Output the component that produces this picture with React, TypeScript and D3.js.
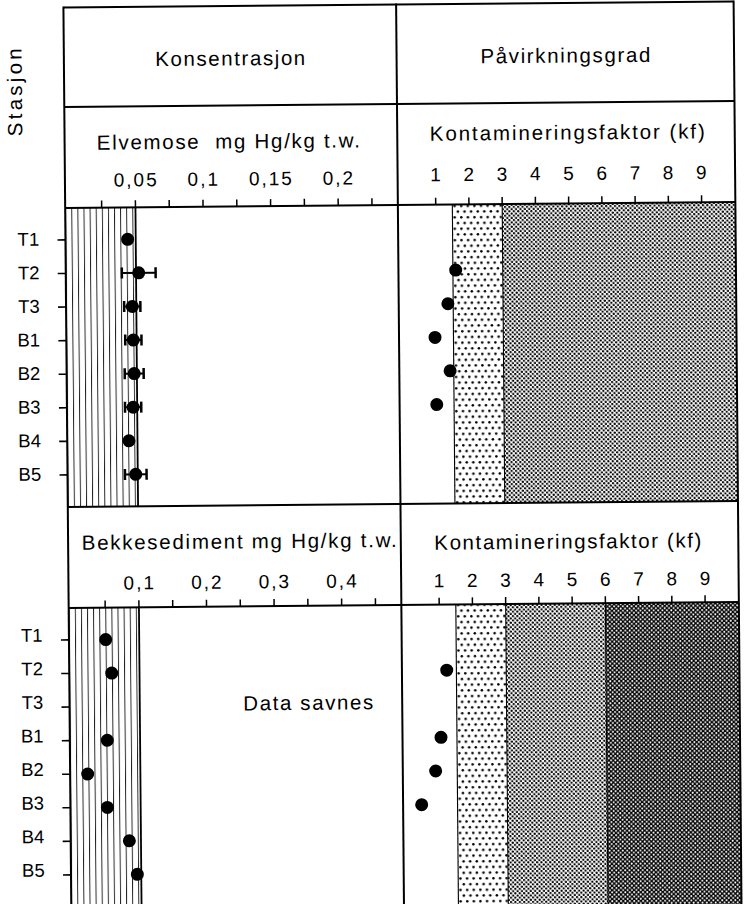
import React from 'react';
import * as d3 from 'd3';

// ---------- data ----------
const stations = ['T1', 'T2', 'T3', 'B1', 'B2', 'B3', 'B4', 'B5'];

// Elvemose (moss), mg Hg/kg t.w.
const mossValue = [0.044, 0.052, 0.047, 0.0476, 0.048, 0.047, 0.0437, 0.0485];
const mossError = [0, 0.0125, 0.006, 0.006, 0.007, 0.006, 0, 0.008];
// Kontamineringsfaktor for moss
const mossKf: (number | null)[] = [null, 1.585, 1.34, 0.945, 1.39, 0.98, null, null];

// Bekkesediment, mg Hg/kg t.w.
const sedValue: (number | null)[] = [0.0504, 0.0589, null, 0.0515, 0.022, 0.0507, 0.0828, 0.0942];
// Kontamineringsfaktor for sediment
const sedKf: (number | null)[] = [null, 1.21, null, 1.02, 0.85, 0.42, null, null];

// background levels (hatched zones)
const mossBackground = 0.05;
const sedBackground = 0.1;

// contamination classes (kf bounds)
const kfBoundsTop = [1.5, 3, 10];
const kfPatternsTop = ['lightDots', 'medDots'];
const kfBoundsBottom = [1.5, 3, 6, 10];
const kfPatternsBottom = ['lightDots', 'medDots', 'darkDots'];

// axes
const mossTicks = [0.025, 0.05, 0.075, 0.1, 0.125, 0.15, 0.175, 0.2, 0.225];
const mossLabelValues = [0.05, 0.1, 0.15, 0.2];
const mossLabelTexts = ['0,05', '0,1', '0,15', '0,2'];
const sedTicks = [0.05, 0.1, 0.15, 0.2, 0.25, 0.3, 0.35, 0.4, 0.45];
const sedLabelValues = [0.1, 0.2, 0.3, 0.4];
const sedLabelTexts = ['0,1', '0,2', '0,3', '0,4'];
const kfTicks = [1, 2, 3, 4, 5, 6, 7, 8, 9];

const FONT = "'Liberation Sans', Arial, Helvetica, sans-serif";

export default function App() {
  // layout (unrotated frame)
  const L = 67.3, M = 400, R = 737.5, TOP = 4.5, H1 = 104, A1 = 205, H2 = 504, A2 = 605, BOT = 930;

  const yTop = d3.scalePoint<string>().domain(stations).range([A1, H2]).padding(0.953);
  const yBot = d3.scalePoint<string>().domain(stations).range([A2, A2 + (H2 - A1)]).padding(0.953);
  const xMoss = d3.scaleLinear().domain([0, 0.25]).range([70, 407.9]);
  const xSed = d3.scaleLinear().domain([0, 0.5]).range([70, 407.9]);
  const xKf = d3.scaleLinear().domain([0, 10]).range([404.6, 737]);

  const fsHead = 20.5;
  const fsTick = 19;
  const fsRow = 18.5;
  const ls = 2;
  const tickLen = 7;
  const r = 6.5;

  const zones = (bounds: number[], pats: string[], y0: number, y1: number) =>
    pats.map((p, i) => {
      const x0 = xKf(bounds[i]);
      const x1 = Math.min(xKf(bounds[i + 1]), R);
      return (
        <g key={p + i}>
          <rect x={x0} y={y0} width={x1 - x0} height={y1 - y0} fill={`url(#${p})`} />
          <line x1={x0} x2={x0} y1={y0} y2={y1} stroke="#000" strokeWidth={1.1} />
        </g>
      );
    });

  const rowLabels = (y: d3.ScalePoint<string>, dy: number) =>
    stations.map((s) => (
      <g key={s}>
        <line x1={L - 8} x2={L} y1={y(s)!} y2={y(s)!} stroke="#000" strokeWidth={1.6} />
        <text x={41} y={y(s)! + dy} textAnchor="end" fontSize={fsRow} fontFamily={FONT}>{s}</text>
      </g>
    ));

  const xTicks = (ticks: number[], x: (v: number) => number, yA: number) =>
    ticks.map((t) => (
      <line key={t} x1={x(t)} x2={x(t)} y1={yA} y2={yA - tickLen} stroke="#000" strokeWidth={1.5} />
    ));

  return (
    <svg width={748} height={904} style={{ position: 'absolute', left: 0, top: 0, background: '#fff' }}>
      <defs>
        <pattern id="vhatch" patternUnits="userSpaceOnUse" x={L} y={0} width={6.1} height={10}>
          <line x1={0.5} x2={0.5} y1={0} y2={10} stroke="#111" strokeWidth={0.9} />
        </pattern>
        <pattern id="lightDots" patternUnits="userSpaceOnUse" width={6.6} height={11.4}>
          <circle cx={1.3} cy={1.3} r={1.25} fill="#000" />
          <circle cx={4.6} cy={7} r={1.25} fill="#000" />
        </pattern>
        <pattern id="medDots" patternUnits="userSpaceOnUse" width={4.4} height={4.4}>
          <circle cx={1.1} cy={1.1} r={1.15} fill="#000" />
          <circle cx={3.3} cy={3.3} r={1.15} fill="#000" />
        </pattern>
        <pattern id="darkDots" patternUnits="userSpaceOnUse" width={4.4} height={4.4}>
          <rect width={4.4} height={4.4} fill="#000" />
          <circle cx={1.1} cy={1.1} r={1.0} fill="#fff" />
          <circle cx={3.3} cy={3.3} r={1.0} fill="#fff" />
        </pattern>
      </defs>
      <rect width={748} height={904} fill="#fff" />
      <g transform="rotate(-0.5 400 450)">
        {/* background hatch zones */}
        <rect x={L} y={A1} width={xMoss(mossBackground) - L} height={H2 - A1} fill="url(#vhatch)" />
        <line x1={xMoss(mossBackground)} x2={xMoss(mossBackground)} y1={A1} y2={H2} stroke="#000" strokeWidth={1.8} />
        <rect x={L} y={A2} width={xSed(sedBackground) - L} height={BOT - A2} fill="url(#vhatch)" />
        <line x1={xSed(sedBackground)} x2={xSed(sedBackground)} y1={A2} y2={BOT} stroke="#000" strokeWidth={1.8} />

        {/* kf class zones */}
        {zones(kfBoundsTop, kfPatternsTop, A1, H2)}
        {zones(kfBoundsBottom, kfPatternsBottom, A2, BOT)}

        {/* frame */}
        <g stroke="#000" strokeWidth={2} fill="none">
          <line x1={L} x2={R} y1={TOP} y2={TOP} />
          <line x1={L} x2={R} y1={H1} y2={H1} />
          <line x1={L} x2={R} y1={A1} y2={A1} />
          <line x1={L} x2={R} y1={H2} y2={H2} />
          <line x1={L} x2={R} y1={A2} y2={A2} />
          <line x1={L} x2={L} y1={TOP - 1} y2={BOT} />
          <line x1={M} x2={M} y1={TOP - 1} y2={BOT} />
          <line x1={R} x2={R} y1={TOP - 1} y2={BOT} />
        </g>

        {/* axis ticks */}
        {xTicks(mossTicks, xMoss, A1)}
        {xTicks(sedTicks, xSed, A2)}
        {xTicks(kfTicks, xKf, A1)}
        {xTicks(kfTicks, xKf, A2)}

        {/* row labels */}
        {rowLabels(yTop, 5.5)}
        {rowLabels(yBot, 1.5)}

        {/* headers */}
        <g fontFamily={FONT} fontSize={fsHead} textAnchor="middle" fill="#000">
          <text transform="translate(25,89) rotate(-90)" textLength={88} lengthAdjust="spacing">Stasjon</text>
          <text x={(L + M) / 2} y={64} textLength={150} lengthAdjust="spacing">Konsentrasjon</text>
          <text x={(M + R) / 2} y={64} textLength={170} lengthAdjust="spacing">Påvirkningsgrad</text>
          <text x={231} y={147} textLength={263} lengthAdjust="spacing" style={{ whiteSpace: 'pre' }}>{'Elvemose  mg Hg/kg t.w.'}</text>
          <text x={570} y={141} textLength={275} lengthAdjust="spacing">Kontamineringsfaktor (kf)</text>
          <text x={238.4} y={547} textLength={315} lengthAdjust="spacing">Bekkesediment mg Hg/kg t.w.</text>
          <text x={567} y={550} textLength={267} lengthAdjust="spacing">Kontamineringsfaktor (kf)</text>
          <text x={306} y={709} textLength={130} lengthAdjust="spacing">Data savnes</text>
        </g>
        <g fontFamily={FONT} fontSize={fsTick} textAnchor="middle" fill="#000">
          {mossLabelValues.map((v, i) => (
            <text key={'ml' + i} x={xMoss(v)} dx={ls / 2} y={A1 - 21} letterSpacing={ls}>{mossLabelTexts[i]}</text>
          ))}
          {sedLabelValues.map((v, i) => (
            <text key={'sl' + i} x={xSed(v)} dx={ls / 2} y={A2 - 18} letterSpacing={ls}>{sedLabelTexts[i]}</text>
          ))}
          {kfTicks.map((k) => (
            <text key={'kt' + k} x={xKf(k)} y={A1 - 23.5}>{k}</text>
          ))}
          {kfTicks.map((k) => (
            <text key={'kb' + k} x={xKf(k)} y={A2 - 17.5}>{k}</text>
          ))}
        </g>

        {/* moss concentration with error bars */}
        {stations.map((s, i) => {
          const y = yTop(s)!;
          const e = mossError[i];
          const v = mossValue[i];
          return (
            <g key={'m' + s}>
              {e > 0 && (
                <g stroke="#000">
                  <line x1={xMoss(v - e)} x2={xMoss(v + e)} y1={y} y2={y} strokeWidth={2} />
                  <line x1={xMoss(v - e)} x2={xMoss(v - e)} y1={y - 5.5} y2={y + 5.5} strokeWidth={2.5} />
                  <line x1={xMoss(v + e)} x2={xMoss(v + e)} y1={y - 5.5} y2={y + 5.5} strokeWidth={2.5} />
                </g>
              )}
              <circle cx={xMoss(v)} cy={y} r={r} fill="#000" />
            </g>
          );
        })}

        {/* moss kf */}
        {stations.map((s, i) =>
          mossKf[i] == null ? null : <circle key={'mk' + s} cx={xKf(mossKf[i] as number)} cy={yTop(s)!} r={r} fill="#000" />
        )}

        {/* sediment concentration */}
        {stations.map((s, i) =>
          sedValue[i] == null ? null : <circle key={'sv' + s} cx={xSed(sedValue[i] as number)} cy={yBot(s)!} r={r} fill="#000" />
        )}

        {/* sediment kf */}
        {stations.map((s, i) =>
          sedKf[i] == null ? null : <circle key={'sk' + s} cx={xKf(sedKf[i] as number)} cy={yBot(s)!} r={r} fill="#000" />
        )}
      </g>
    </svg>
  );
}
